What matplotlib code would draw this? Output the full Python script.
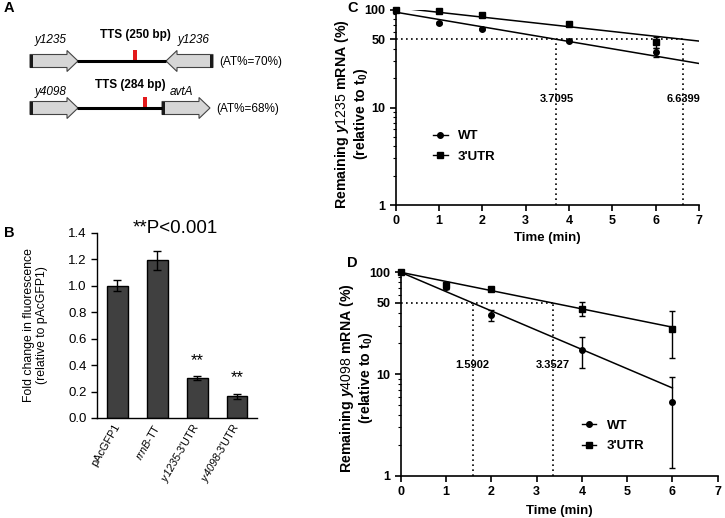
import numpy as np
import matplotlib
matplotlib.use("Agg")
import matplotlib.pyplot as plt
from matplotlib.patches import Polygon, Rectangle
from matplotlib.lines import Line2D

plt.rcParams['font.family'] = ['Liberation Sans', 'DejaVu Sans']
plt.rcParams['mathtext.fontset'] = 'custom'
plt.rcParams['mathtext.rm'] = 'Liberation Sans'
plt.rcParams['mathtext.bf'] = 'Liberation Sans:bold'
plt.rcParams['mathtext.it'] = 'Liberation Sans:italic:bold'   # bold italic gene names (C, D)
plt.rcParams['mathtext.sf'] = 'Liberation Sans:italic'        # plain italic gene names (B)

# ---- data ----
# A: gene neighbourhoods
genes_left = ["y1235", "y4098"]
genes_right = ["y1236", "avtA"]
tts_bp = [250, 284]
at_pct = [70, 68]

# B: fluorescence
constructs = ["pAcGFP1", r"$\mathsf{rrnB}$-TT", r"$\mathsf{y1235}$-3'UTR", r"$\mathsf{y4098}$-3'UTR"]
fold_change = [1.00, 1.19, 0.30, 0.165]
fold_err = [0.04, 0.07, 0.015, 0.02]
signif = ["", "", "**", "**"]

# C: y1235 decay
time_c = [0, 1, 2, 4, 6]
wt_c = [100, 74, 64, 48, 37]
wt_c_err = [0, 2, 2, 1.5, 4]
utr_c = [100, 97, 89, 72, 47]
utr_c_err = [0, 2, 2, 3, 6]
fit_c_y0 = [95, 106]
half_c = [3.7095, 6.6399]

# D: y4098 decay
time_d = [0, 1, 2, 4, 6]
wt_d = [100, 71, 38, 17.3, 5.3]
wt_d_err = [0, 2, 5, 5.9, 4.1]
utr_d = [100, 75, 68, 44, 28]
utr_d_err = [0, 6, 2, 7, 13.5]
fit_d_y0 = [100, 100]
half_d = [1.5902, 3.3527]

W, H = 725, 518
fig = plt.figure(figsize=(W / 100, H / 100), dpi=100)

# ---- panel A (drawn in pixel coords) ----
axA = fig.add_axes([0, 0, 1, 1], zorder=-1)
axA.set_xlim(0, W)
axA.set_ylim(H, 0)
axA.axis('off')


def gene_arrow(ax, x0, x1, yc, right=True):
    bh, hh, hl = 6.5, 10.5, 11
    if right:
        pts = [(x0, yc - bh), (x1 - hl, yc - bh), (x1 - hl, yc - hh), (x1, yc),
               (x1 - hl, yc + hh), (x1 - hl, yc + bh), (x0, yc + bh)]
        bar_x = x0
    else:
        pts = [(x1, yc - bh), (x0 + hl, yc - bh), (x0 + hl, yc - hh), (x0, yc),
               (x0 + hl, yc + hh), (x0 + hl, yc + bh), (x1, yc + bh)]
        bar_x = x1 - 3
    ax.add_patch(Polygon(pts, closed=True, fc='#d6d6d6', ec='#444444', lw=0.8))
    ax.add_patch(Rectangle((bar_x, yc - bh), 3, 2 * bh, fc='#1a1a1a', ec='none'))


rows = [dict(yc=61, g2=(166, 213), g2_right=False, red=135, line_end=166,
             lab_y=40, tts_x=135, tts_y=35, g2_x=178),
        dict(yc=108, g2=(162, 210), g2_right=True, red=145, line_end=162,
             lab_y=92, tts_x=130, tts_y=85, g2_x=170)]
for i, r in enumerate(rows):
    yc = r['yc']
    axA.plot([77, r['line_end']], [yc, yc], color='black', lw=2.2, solid_capstyle='butt')
    gene_arrow(axA, 30, 78, yc, right=True)
    gene_arrow(axA, r['g2'][0], r['g2'][1], yc, right=r['g2_right'])
    axA.add_patch(Rectangle((r['red'] - 2, yc - 11), 4, 10, fc='#e31a1c', ec='none'))
    axA.text(35, r['lab_y'], genes_left[i], fontsize=8.5, style='italic', va='center')
    axA.text(r['g2_x'], r['lab_y'], genes_right[i], fontsize=8.5, style='italic', va='center')
    axA.text(r['tts_x'], r['tts_y'], f"TTS ({tts_bp[i]} bp)", fontsize=8.5,
             fontweight='bold', ha='center', va='center')
    axA.text(r['g2'][1] + 6, yc + 1, f"(AT%={at_pct[i]}%)", fontsize=8.5, va='center')

for lab, (x, y) in zip("ABCD", [(4, 8), (4, 233), (347, 8), (347, 263)]):
    axA.text(x, y, lab, fontsize=10.5, fontweight='bold', va='center')

# ---- panel B ----
axB = fig.add_axes([97 / W, 1 - 418 / H, 160 / W, (418 - 232.7) / H])
xb = np.arange(len(constructs))
axB.bar(xb, fold_change, width=0.52, color='#404040', edgecolor='black', lw=1,
        yerr=fold_err, capsize=3, error_kw=dict(lw=1, capthick=1, ecolor='black'))
axB.set_xlim(-0.51, 3.5)
axB.set_ylim(0, 1.4)
axB.set_yticks(np.arange(0, 1.41, 0.2))
axB.set_yticklabels([f"{v:.1f}" for v in np.arange(0, 1.41, 0.2)], fontsize=9.5)
axB.set_xticks(xb)
axB.set_xticklabels(constructs, rotation=60, ha='right', va='center',
                    rotation_mode='anchor', fontsize=7.8)
axB.tick_params(axis='x', length=0, pad=5)
axB.tick_params(axis='y', length=4, width=1, direction='out')
for s in ['top', 'right']:
    axB.spines[s].set_visible(False)
for s in ['left', 'bottom']:
    axB.spines[s].set_linewidth(1)
for xi, v, e, s in zip(xb, fold_change, fold_err, signif):
    if s:
        axB.text(xi, v + e + 0.12, s, ha='center', va='center', fontsize=12)
axB.text(1.44, 1.43, "**P<0.001", ha='center', va='center', fontsize=13.5, clip_on=False)
axB.text(-2.05, 0.7, "Fold change in fluorescence\n(relative to pAcGFP1)",
         rotation=90, ha='center', va='center', fontsize=8.8, linespacing=1.15)


# ---- panels C, D ----
def decay_panel(ax, t, wt, wt_err, utr, utr_err, y0s, halves, t_end, lab_y, gene,
                leg_xy, ylab_xy, xpad):
    ax.set_yscale('log')
    ax.set_xlim(0, 7)
    ax.set_ylim(1, 100)
    ax.errorbar(t, wt, yerr=wt_err, fmt='o', color='black', ms=4, capsize=2.5,
                elinewidth=1, capthick=1, clip_on=False, zorder=3)
    ax.errorbar(t, utr, yerr=utr_err, fmt='s', color='black', ms=4, capsize=2.5,
                elinewidth=1, capthick=1, clip_on=False, zorder=3)
    tt = np.linspace(0, t_end, 50)
    for y0, tc in zip(y0s, halves):
        ax.plot(tt, y0 * (50 / y0) ** (tt / tc), color='black', lw=1.1)
        ax.plot([tc, tc], [1, 50], color='black', lw=1.2, ls=(0, (1, 2)))
        ax.text(tc, lab_y, f"{tc:.4f}", ha='center', va='center', fontsize=8,
                fontweight='bold')
    ax.plot([0, max(halves)], [50, 50], color='black', lw=1.2, ls=(0, (1, 2)))
    ax.set_xticks(range(8))
    ax.set_xticklabels([str(i) for i in range(8)], fontsize=9, fontweight='bold')
    ax.set_yticks([1, 10, 50, 100])
    ax.set_yticklabels(['1', '10', '50', '100'], fontsize=9, fontweight='bold')
    ax.tick_params(which='major', length=4, width=1.2)
    ax.tick_params(which='minor', length=2, width=0.8)
    ax.xaxis.set_minor_locator(plt.NullLocator())
    for s in ['top', 'right']:
        ax.spines[s].set_visible(False)
    for s in ['left', 'bottom']:
        ax.spines[s].set_linewidth(1.2)
    ax.set_xlabel("Time (min)", fontsize=9.5, fontweight='bold', labelpad=xpad)
    ax.text(ylab_xy[0], ylab_xy[1],
            "Remaining $\\mathit{%s}$ mRNA (%%)\n(relative to $\\mathbf{t_0}$)" % gene,
            transform=ax.transAxes, rotation=90, ha='center', va='center',
            fontsize=10.2, fontweight='bold', linespacing=1.1)
    handles = [Line2D([], [], color='black', marker='o', ms=4, lw=1),
               Line2D([], [], color='black', marker='s', ms=4, lw=1)]
    ax.legend(handles, ['WT', "3'UTR"], loc='center left', bbox_to_anchor=leg_xy,
              frameon=False, handlelength=1.1, handletextpad=0.8, labelspacing=0.65,
              borderpad=0, borderaxespad=0, prop=dict(size=9.5, weight='bold'))


axC = fig.add_axes([395.7 / W, 1 - 205 / H, (699 - 395.7) / W, 195 / H])
decay_panel(axC, time_c, wt_c, wt_c_err, utr_c, utr_c_err, fit_c_y0, half_c, 7, 12.2,
            "y1235", (0.123, 0.30), (-0.145, 0.465), 3)

axD = fig.add_axes([400.7 / W, 1 - 476 / H, (717.7 - 400.7) / W, (476 - 272.3) / H])
decay_panel(axD, time_d, wt_d, wt_d_err, utr_d, utr_d_err, fit_d_y0, half_d, 6, 12.3,
            "y4098", (0.571, 0.197), (-0.14, 0.48), 4.5)

fig.savefig("out.png", dpi=100)
